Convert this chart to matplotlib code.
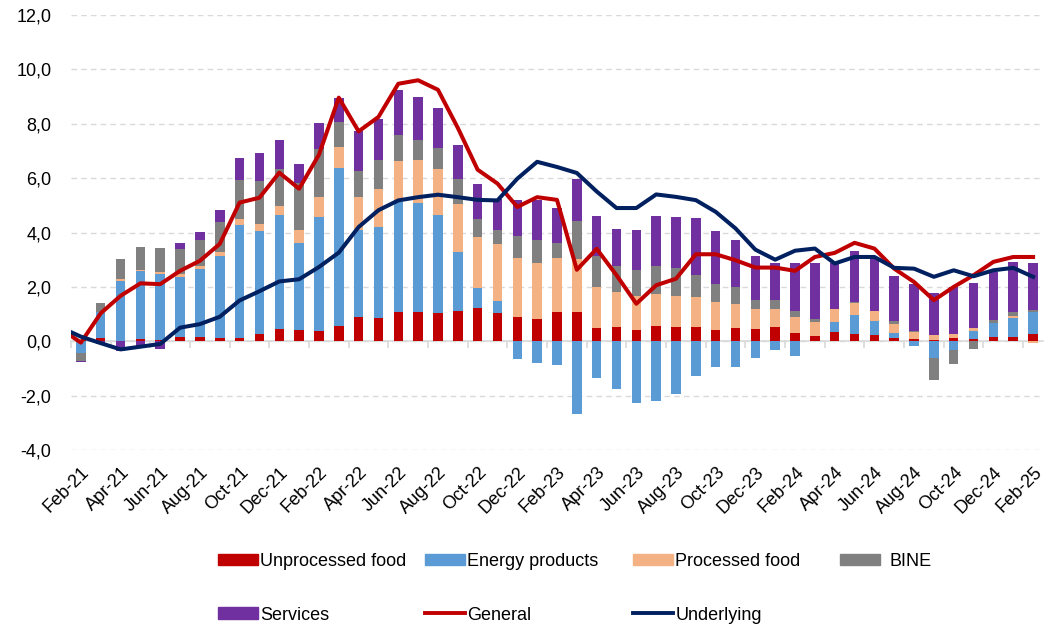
import matplotlib
matplotlib.use('Agg')
import numpy as np
import pandas as pd
import matplotlib.pyplot as plt
from matplotlib import rcParams
from matplotlib.patches import Patch
from matplotlib.lines import Line2D

rcParams.update({
    'font.family': ['Liberation Sans', 'DejaVu Sans'],
    'font.size': 13,
})

# monthly categories Feb-21 .. Feb-25
months = list(pd.date_range('2021-02-01', periods=49, freq='MS').strftime('%b-%y'))

# contributions (pp)
unprocessed = [0.05, 0.13, 0.02, 0.09, 0.05, 0.16, 0.17, 0.12, 0.11, 0.28,
               0.45, 0.42, 0.37, 0.56, 0.88, 0.85, 1.08, 1.08, 1.04, 1.12,
               1.23, 1.04, 0.89, 0.83, 1.07, 1.07, 0.49, 0.51, 0.40, 0.55,
               0.54, 0.53, 0.40, 0.49, 0.44, 0.53, 0.31, 0.20, 0.33, 0.28,
               0.22, 0.12, 0.07, 0.04, 0.12, 0.10, 0.16, 0.16, 0.28]
energy = [-0.45, 0.93, 2.21, 2.51, 2.43, 2.22, 2.49, 3.00, 4.16, 3.78,
          4.18, 3.18, 4.20, 5.80, 3.23, 3.34, 4.04, 4.01, 3.59, 2.16,
          0.73, 0.44, -0.67, -0.80, -0.87, -2.69, -1.36, -1.77, -2.26, -2.20,
          -1.93, -1.28, -0.94, -0.94, -0.61, -0.33, -0.54, 0.00, 0.38, 0.68,
          0.52, 0.20, -0.18, -0.60, -0.33, 0.27, 0.51, 0.70, 0.80]
processed = [0.00, 0.00, 0.05, 0.02, 0.07, 0.09, 0.09, 0.17, 0.21, 0.25,
             0.35, 0.50, 0.74, 0.80, 1.20, 1.42, 1.50, 1.59, 1.71, 1.76,
             1.88, 2.10, 2.19, 2.03, 2.01, 1.97, 1.50, 1.30, 1.25, 1.18,
             1.13, 1.10, 1.05, 0.87, 0.74, 0.66, 0.59, 0.50, 0.46, 0.43,
             0.36, 0.33, 0.27, 0.18, 0.16, 0.12, 0.00, 0.06, -0.05]
bine = [-0.27, 0.33, 0.74, 0.85, 0.87, 0.92, 0.99, 1.10, 1.46, 1.58,
        1.34, 1.72, 1.75, 0.90, 0.94, 1.04, 0.98, 0.73, 0.77, 0.94,
        0.65, 0.50, 0.79, 0.87, 0.54, 1.37, 1.13, 0.97, 0.98, 1.03,
        1.03, 0.80, 0.64, 0.63, 0.33, 0.32, 0.20, 0.13, 0.02, 0.06,
        0.01, 0.09, 0.02, -0.81, -0.52, -0.27, 0.10, 0.16, 0.06]
services = [-0.04, -0.10, -0.35, -0.20, -0.30, 0.22, 0.28, 0.43, 0.80, 1.04,
            1.07, 0.71, 0.97, 0.89, 1.47, 1.52, 1.63, 1.57, 1.48, 1.23,
            1.28, 1.17, 1.34, 1.45, 1.29, 1.57, 1.49, 1.36, 1.45, 1.84,
            1.88, 2.12, 1.97, 1.75, 1.62, 1.35, 1.76, 2.03, 1.69, 1.86,
            1.98, 1.66, 1.75, 1.57, 1.72, 1.66, 1.78, 1.82, 1.72]

# lines start one month earlier (Jan-21), the first segment is cut by the axis
general = [0.45,
           -0.05, 1.03, 1.67, 2.13, 2.10, 2.59, 2.96, 3.58, 5.10, 5.28,
           6.20, 5.61, 6.86, 8.96, 7.72, 8.25, 9.47, 9.60, 9.25, 7.85,
           6.31, 5.80, 4.94, 5.30, 5.20, 2.63, 3.40, 2.43, 1.38, 2.06,
           2.30, 3.20, 3.20, 2.98, 2.71, 2.71, 2.59, 3.10, 3.25, 3.62,
           3.41, 2.67, 2.18, 1.51, 2.00, 2.43, 2.92, 3.10, 3.10]
underlying = [0.50,
              0.17, -0.07, -0.30, -0.20, -0.10, 0.50, 0.63, 0.90, 1.50, 1.84,
              2.20, 2.28, 2.73, 3.26, 4.20, 4.82, 5.18, 5.30, 5.39, 5.30,
              5.20, 5.18, 5.98, 6.60, 6.41, 6.19, 5.51, 4.90, 4.90, 5.40,
              5.31, 5.19, 4.76, 4.15, 3.37, 3.00, 3.33, 3.41, 2.86, 3.10,
              3.10, 2.70, 2.67, 2.37, 2.61, 2.39, 2.61, 2.70, 2.37]

components = [
    (unprocessed, '#C00000', 'Unprocessed food'),
    (energy, '#5B9BD5', 'Energy products'),
    (processed, '#F4B183', 'Processed food'),
    (bine, '#808080', 'BINE'),
    (services, '#7030A0', 'Services'),
]

fig = plt.figure(figsize=(10.53, 6.25), dpi=100)
ax = fig.add_axes([0.0674, 0.28, 0.9231, 0.696])

x = np.arange(len(months))
pos_bottom = np.zeros(len(x))
neg_bottom = np.zeros(len(x))
handles = {}
for vals, color, label in components:
    v = np.array(vals)
    b = np.where(v >= 0, pos_bottom, neg_bottom)
    ax.bar(x, v, 0.48, bottom=b, color=color, zorder=2)
    pos_bottom += np.where(v > 0, v, 0)
    neg_bottom += np.where(v < 0, v, 0)
    handles[label] = Patch(color=color)

xl = np.arange(-1, len(months))
ax.plot(xl, general, color='#C00000', lw=2.9, zorder=3, solid_joinstyle='round')
ax.plot(xl, underlying, color='#002060', lw=2.9, zorder=4, solid_joinstyle='round')
handles['General'] = Line2D([], [], color='#C00000', lw=2.8)
handles['Underlying'] = Line2D([], [], color='#002060', lw=2.8)

ax.set_xlim(-0.5, len(months) - 0.5)
ax.set_ylim(-4, 12)
yt = np.arange(-4, 13, 2)
ax.set_yticks(yt)
ax.set_yticklabels([('%.1f' % v).replace('.', ',') for v in yt])
ax.yaxis.grid(True, ls=(0, (4, 3)), color='#D9D9D9', lw=1, zorder=0)
ax.set_axisbelow(True)
ax.tick_params(axis='y', length=0, pad=14)

for s in ['left', 'top', 'right']:
    ax.spines[s].set_visible(False)
ax.spines['bottom'].set_position(('data', 0))
ax.spines['bottom'].set_color('#D9D9D9')
ax.spines['bottom'].set_linewidth(1.2)
ax.spines['bottom'].set_zorder(1.5)
ax.set_xticks(np.arange(-0.5, len(months), 2), [''] * 25)
ax.tick_params(axis='x', length=5, color='#D9D9D9', width=1.2)

sec = ax.secondary_xaxis(0)
sec.set_xticks(x[::2], months[::2], rotation=45, ha='right', rotation_mode='anchor')
sec.tick_params(length=0, pad=10)
sec.spines['bottom'].set_visible(False)

entries = [
    ('Unprocessed food', 0.207, 0.102, 0.15),
    ('Energy products', 0.4036, 0.102, 0.15),
    ('Processed food', 0.601, 0.102, 0.15),
    ('BINE', 0.798, 0.102, 0.5),
    ('Services', 0.207, 0.016, 0.15),
    ('General', 0.4036, 0.016, 0.15),
    ('Underlying', 0.601, 0.016, 0.15),
]
for label, lx, ly, tp in entries:
    fig.legend([handles[label]], [label], loc='center left', bbox_to_anchor=(lx, ly),
               frameon=False, borderpad=0, borderaxespad=0, handlelength=2.2,
               handleheight=0.6, handletextpad=tp, fontsize=13)

fig.savefig('out.png', dpi=100)
